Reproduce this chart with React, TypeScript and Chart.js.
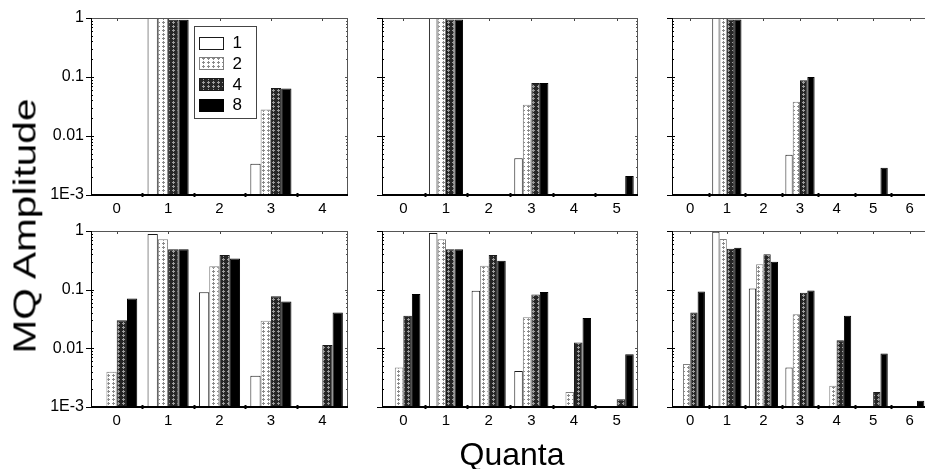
import React, { useEffect, useRef } from "react";
import { Chart, registerables } from "chart.js";

Chart.register(...registerables);

const FONT = "'Liberation Sans', Arial, Helvetica, sans-serif";
Chart.defaults.font.family = FONT;

// ---------------- data ----------------
const seriesLabels = ["1", "2", "4", "8"];
const quantaTo4 = ["0", "1", "2", "3", "4"];
const quantaTo5 = ["0", "1", "2", "3", "4", "5"];
const quantaTo6 = ["0", "1", "2", "3", "4", "5", "6"];
const yTickValues = [0.001, 0.01, 0.1, 1];
const yTickLabels = ["1E-3", "0.01", "0.1", "1"];

// top-left panel
const topLeft1 = [null, 1.0, null, 0.0034, null];
const topLeft2 = [null, 1.0, null, 0.028, null];
const topLeft4 = [null, 0.93, null, 0.065, null];
const topLeft8 = [null, 0.93, null, 0.064, null];
// top-middle panel
const topMid1 = [null, 1.0, null, 0.0042, null, null];
const topMid2 = [null, 1.0, null, 0.034, null, null];
const topMid4 = [null, 0.94, null, 0.079, null, null];
const topMid8 = [null, 0.94, null, 0.079, null, 0.0021];
// top-right panel
const topRight1 = [null, 1.0, null, 0.0048, null, null, null];
const topRight2 = [null, 1.0, null, 0.038, null, null, null];
const topRight4 = [null, 0.94, null, 0.088, null, null, null];
const topRight8 = [null, 0.94, null, 0.1, null, 0.0029, null];
// bottom-left panel
const botLeft1 = [null, 0.89, 0.09, 0.0034, null];
const botLeft2 = [0.004, 0.72, 0.25, 0.0295, null];
const botLeft4 = [0.03, 0.49, 0.39, 0.077, 0.0114];
const botLeft8 = [0.071, 0.49, 0.34, 0.063, 0.041];
// bottom-middle panel
const botMid1 = [null, 0.92, 0.096, 0.0041, null, null];
const botMid2 = [0.0047, 0.72, 0.255, 0.034, 0.0018, null];
const botMid4 = [0.036, 0.49, 0.39, 0.083, 0.0126, 0.00135];
const botMid8 = [0.084, 0.49, 0.31, 0.091, 0.033, 0.0079];
// bottom-right panel
const botRight1 = [null, 0.97, 0.105, 0.0047, null, null, null];
const botRight2 = [0.0054, 0.73, 0.27, 0.038, 0.0023, null, null];
const botRight4 = [0.041, 0.5, 0.4, 0.089, 0.0138, 0.0018, null];
const botRight8 = [0.093, 0.52, 0.3, 0.097, 0.036, 0.0082, 0.00128];

// ---------------- layout ----------------
const COL_LEFT = [91, 382, 672];
const COL_W = [257, 256, 256];
const ROW_TOP = [18, 231];
const ROW_H = [177, 176];
const PAD_TOP = 10;
const PAD_RIGHT = 3;
const X_H = 30;

type PanelCfg = {
  row: number;
  col: number;
  labels: string[];
  series: (number | null)[][];
  legend: boolean;
};

const panels: PanelCfg[] = [
  { row: 0, col: 0, labels: quantaTo4, series: [topLeft1, topLeft2, topLeft4, topLeft8], legend: true },
  { row: 0, col: 1, labels: quantaTo5, series: [topMid1, topMid2, topMid4, topMid8], legend: false },
  { row: 0, col: 2, labels: quantaTo6, series: [topRight1, topRight2, topRight4, topRight8], legend: false },
  { row: 1, col: 0, labels: quantaTo4, series: [botLeft1, botLeft2, botLeft4, botLeft8], legend: false },
  { row: 1, col: 1, labels: quantaTo5, series: [botMid1, botMid2, botMid4, botMid8], legend: false },
  { row: 1, col: 2, labels: quantaTo6, series: [botRight1, botRight2, botRight4, botRight8], legend: false },
];

function makePattern(bg: string, fg: string, w: number, h: number, marks: [number, number][]) {
  const c = document.createElement("canvas");
  c.width = w;
  c.height = h;
  const g = c.getContext("2d")!;
  g.fillStyle = bg;
  g.fillRect(0, 0, w, h);
  g.fillStyle = fg;
  marks.forEach(([x, y]) => {
    g.fillRect(x - 1, y, 3, 1);
    g.fillRect(x, y - 1, 1, 3);
  });
  return g.createPattern(c, "repeat")!;
}

function seriesStyles() {
  const p2 = makePattern("#ffffff", "#8a8a8a", 5, 8, [[2, 2], [2, 6]]);
  const p4 = makePattern("#262626", "#9c9c9c", 5, 8, [[2, 2], [2, 6]]);
  return [
    { backgroundColor: "#ffffff", borderColor: "#1a1a1a" },
    { backgroundColor: p2, borderColor: "#808080" },
    { backgroundColor: p4, borderColor: "#1a1a1a" },
    { backgroundColor: "#000000", borderColor: "#000000" },
  ];
}

function line(ctx: CanvasRenderingContext2D, x1: number, y1: number, x2: number, y2: number) {
  ctx.beginPath();
  ctx.moveTo(x1, y1);
  ctx.lineTo(x2, y2);
  ctx.stroke();
}

const framePlugin = {
  id: "frame",
  afterDatasetsDraw(chart: any) {
    const { ctx, chartArea: a, scales } = chart;
    const xs = scales.x;
    const ys = scales.y;
    ctx.save();
    ctx.lineWidth = 1;
    ctx.strokeStyle = "#000";
    for (let d = -3; d <= 0; d++) {
      for (let m = 1; m < 10; m++) {
        const v = m * Math.pow(10, d);
        if (v > 1.0001) break;
        const py = Math.round(ys.getPixelForValue(v)) + 0.5;
        const major = m === 1;
        ctx.strokeStyle = "#000";
        line(ctx, a.left, py, a.left + (major ? 3 : 2), py);
        ctx.strokeStyle = "#555";
        line(ctx, a.right, py, a.right - (major ? 3 : 2), py);
        ctx.strokeStyle = "#000";
        if (major) line(ctx, a.left, py, a.left - 5, py);
      }
    }
    const n = xs.getLabels().length;
    const step = n > 1 ? xs.getPixelForValue(1) - xs.getPixelForValue(0) : a.right - a.left;
    for (let i = 0; i < n; i++) {
      const cx = Math.round(xs.getPixelForValue(i)) + 0.5;
      ctx.strokeStyle = "#444";
      ctx.lineWidth = 1;
      line(ctx, cx, a.top, cx, a.top + 3);
      if (i < n - 1) {
        const bx = Math.round(xs.getPixelForValue(i) + step / 2) + 0.5;
        ctx.strokeStyle = "#000";
        ctx.lineWidth = 2;
        line(ctx, bx, a.bottom - 2, bx, a.bottom + 2);
      }
    }
    ctx.lineWidth = 1;
    ctx.strokeStyle = "#555";
    line(ctx, a.left, a.top + 0.5, a.right, a.top + 0.5);
    line(ctx, a.right - 0.5, a.top, a.right - 0.5, a.bottom);
    ctx.strokeStyle = "#000";
    line(ctx, a.left + 0.5, a.top, a.left + 0.5, a.bottom);
    ctx.lineWidth = 2;
    line(ctx, a.left, a.bottom, a.right, a.bottom);
    ctx.restore();
  },
};

const legendPlugin = {
  id: "patLegend",
  afterDraw(chart: any) {
    const { ctx, chartArea: a } = chart;
    const bx = Math.round(a.left + (a.right - a.left) * 0.4) + 0.5;
    const by = Math.round(a.top + 8) + 0.5;
    const bw = 62;
    const bh = 92;
    ctx.save();
    ctx.fillStyle = "#fff";
    ctx.fillRect(bx, by, bw, bh);
    ctx.strokeStyle = "#444";
    ctx.lineWidth = 1;
    ctx.strokeRect(bx, by, bw, bh);
    chart.data.datasets.forEach((ds: any, i: number) => {
      const cy = by + 16 + i * 20.7;
      const sx = bx + 5;
      const sy = Math.round(cy - 6);
      ctx.fillStyle = ds.backgroundColor;
      ctx.fillRect(sx, sy, 24, 12);
      ctx.strokeStyle = ds.borderColor;
      ctx.strokeRect(sx, sy + 0.5, 24, 12);
      ctx.fillStyle = "#000";
      ctx.font = `17px ${FONT}`;
      ctx.textBaseline = "middle";
      ctx.textAlign = "left";
      ctx.fillText(ds.label, bx + 38, cy + 1);
    });
    ctx.restore();
  },
};

function labelFor(v: number) {
  const i = yTickValues.findIndex((t) => Math.abs(t - v) / t < 1e-6);
  return i >= 0 ? yTickLabels[i] : "";
}

function Panel({ cfg }: { cfg: PanelCfg }) {
  const ref = useRef<HTMLCanvasElement>(null);
  const yW = cfg.col === 0 ? 60 : 6;
  const areaLeft = COL_LEFT[cfg.col];
  const areaW = COL_W[cfg.col];
  const areaTop = ROW_TOP[cfg.row];
  const areaH = ROW_H[cfg.row];
  const w = yW + areaW + PAD_RIGHT;
  const h = PAD_TOP + areaH + X_H;

  useEffect(() => {
    const styles = seriesStyles();
    const chart = new Chart(ref.current!, {
      type: "bar",
      data: {
        labels: cfg.labels,
        datasets: cfg.series.map((d, i) => ({
          label: seriesLabels[i],
          data: d as any,
          backgroundColor: styles[i].backgroundColor as any,
          borderColor: styles[i].borderColor,
          borderWidth: 1,
          categoryPercentage: 0.8,
          barPercentage: 1.0,
        })),
      },
      options: {
        responsive: false,
        animation: false,
        events: [],
        layout: { padding: { top: PAD_TOP, right: PAD_RIGHT, left: 0, bottom: 0 } },
        plugins: { legend: { display: false }, tooltip: { enabled: false } },
        scales: {
          x: {
            type: "category",
            offset: true,
            grid: { display: false, drawTicks: false },
            border: { display: false },
            ticks: {
              color: "#000",
              font: { family: FONT, size: 15 },
              padding: 5,
              autoSkip: false,
              maxRotation: 0,
            },
            afterFit: (s: any) => {
              s.height = X_H;
              s.paddingLeft = 0;
              s.paddingRight = 0;
            },
          },
          y: {
            type: "logarithmic",
            min: 0.001,
            max: 1,
            grid: { display: false, drawTicks: false },
            border: { display: false },
            afterBuildTicks: (s: any) => {
              s.ticks = yTickValues.map((v) => ({ value: v }));
            },
            ticks: {
              display: cfg.col === 0,
              color: "#000",
              font: { family: FONT, size: 16 },
              padding: 7,
              autoSkip: false,
              callback: (v: any) => labelFor(Number(v)),
            },
            afterFit: (s: any) => {
              s.width = yW;
              s.paddingTop = 0;
              s.paddingBottom = 0;
            },
          },
        },
      } as any,
      plugins: cfg.legend ? [framePlugin, legendPlugin] : [framePlugin],
    });
    return () => chart.destroy();
  }, []);

  return (
    <canvas
      ref={ref}
      width={w}
      height={h}
      style={{
        position: "absolute",
        left: areaLeft - yW,
        top: areaTop - PAD_TOP,
        width: w,
        height: h,
      }}
    />
  );
}

export default function App() {
  return (
    <div
      style={{
        position: "fixed",
        left: 0,
        top: 0,
        width: 925,
        height: 469,
        overflow: "hidden",
        background: "#fff",
        fontFamily: FONT,
      }}
    >
      {panels.map((p, i) => (
        <Panel key={i} cfg={p} />
      ))}
      <div
        style={{
          position: "absolute",
          left: 25,
          top: 226,
          fontSize: 31,
          lineHeight: "31px",
          whiteSpace: "nowrap",
          color: "#000",
          transform: "translate(-50%, -50%) rotate(-90deg) scale(1.31, 1)",
        }}
      >
        MQ Amplitude
      </div>
      <div
        style={{
          position: "absolute",
          left: 512,
          top: 438,
          fontSize: 32,
          lineHeight: "32px",
          whiteSpace: "nowrap",
          color: "#000",
          transform: "translateX(-50%)",
        }}
      >
        Quanta
      </div>
    </div>
  );
}
